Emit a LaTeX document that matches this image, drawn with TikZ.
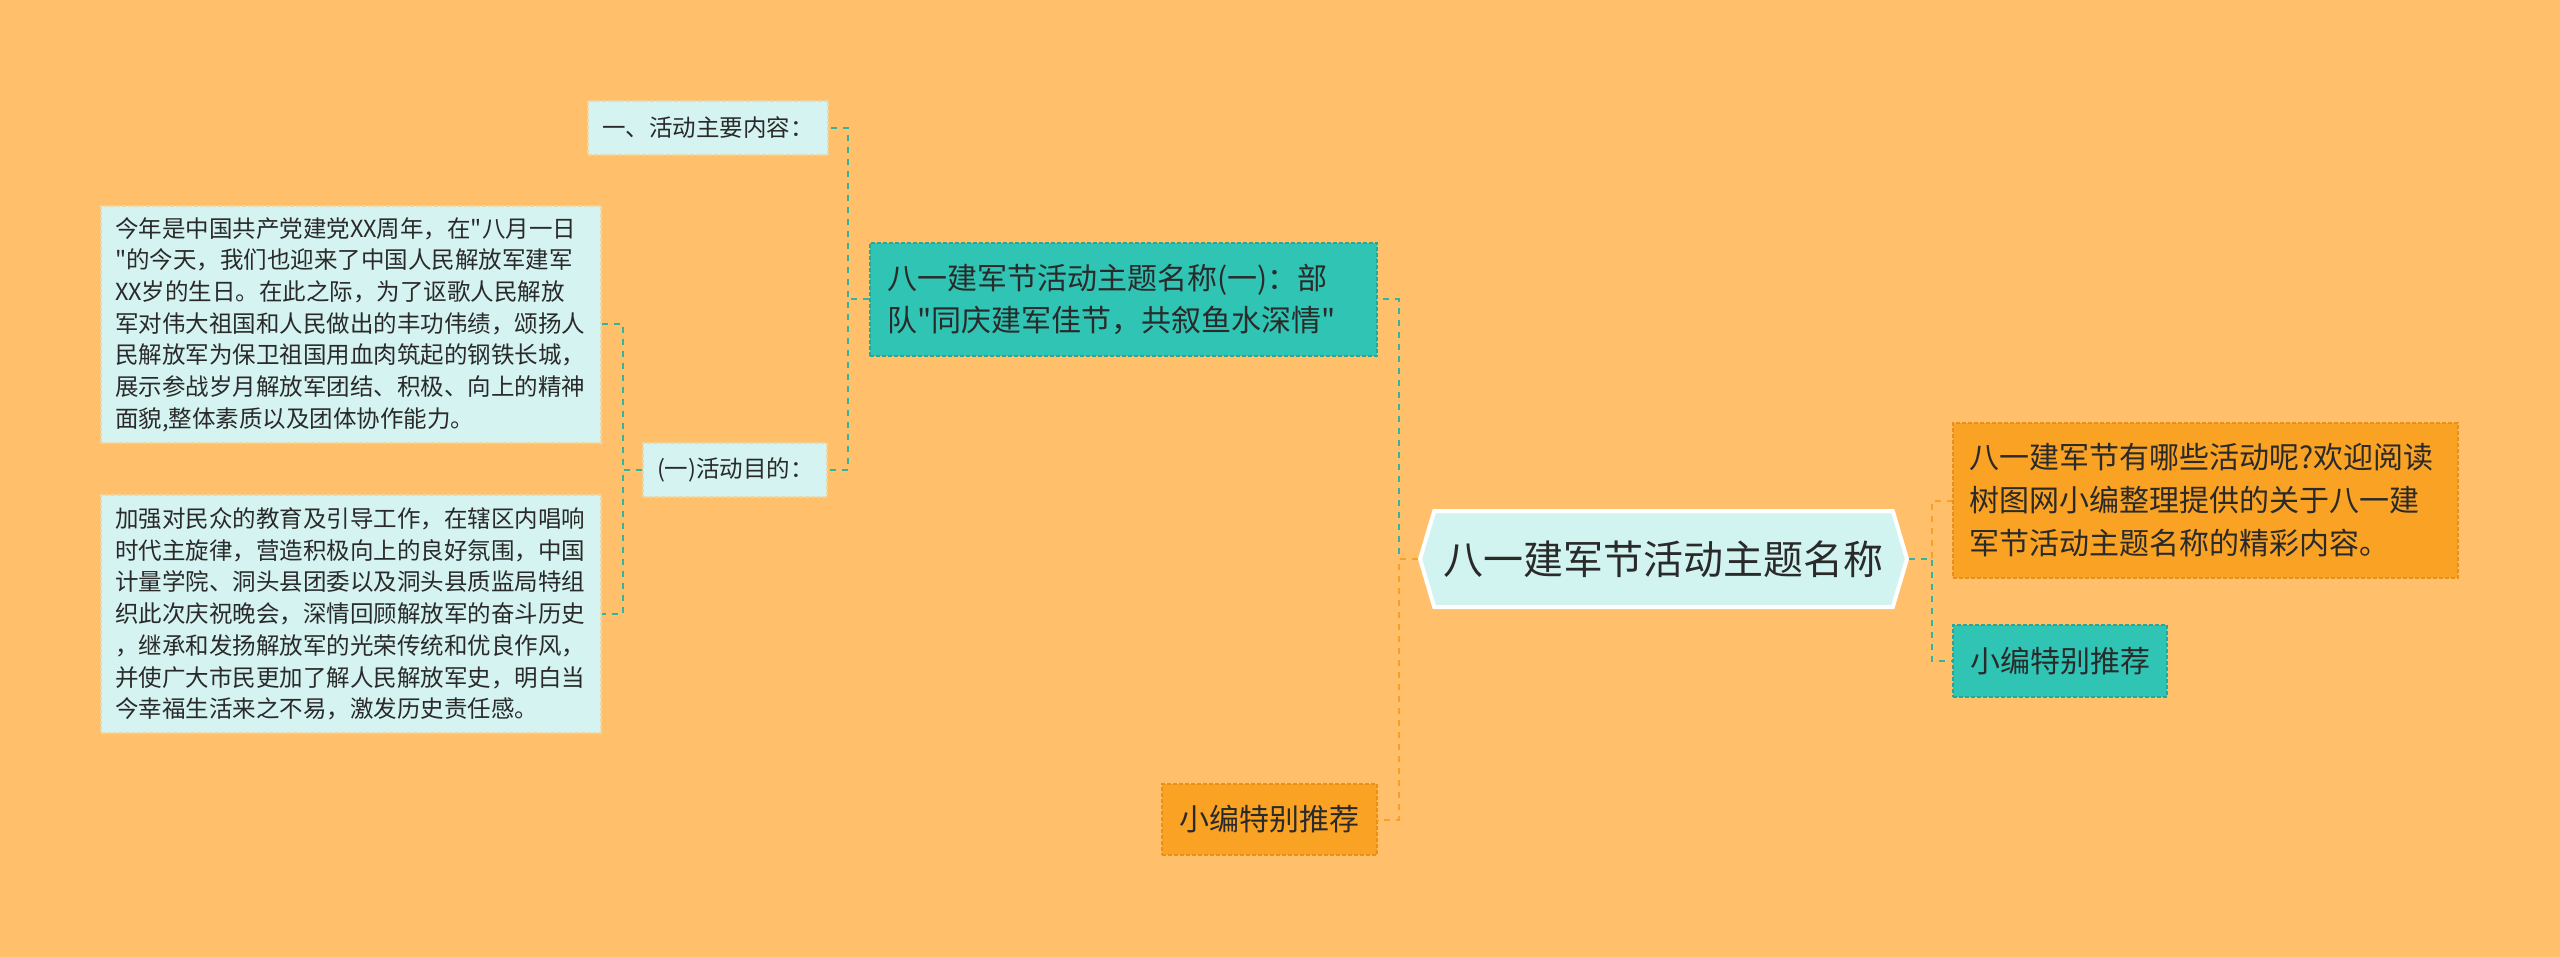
\documentclass[tikz,border=0pt]{standalone}
\usepackage{fontspec}
\setmainfont{Noto Sans CJK SC}[Ligatures=TeXOff]
\usetikzlibrary{positioning,shapes.symbols}

\definecolor{bgorange}{HTML}{FFBF6B}
\definecolor{leafbg}{HTML}{D5F4F1}
\definecolor{leafline}{HTML}{EBD6A6}
\definecolor{rootbg}{HTML}{D2F4F1}
\definecolor{tealbg}{HTML}{2FC4B3}
\definecolor{tealline}{HTML}{26A898}
\definecolor{orangebg}{HTML}{F9A223}
\definecolor{orangeline}{HTML}{E8901A}
\definecolor{txt}{HTML}{2A2A2A}
\definecolor{linkteal}{HTML}{2FB5A2}
\definecolor{linkorange}{HTML}{F7A128}

\begin{document}
\begin{tikzpicture}[
    x=0.5pt, y=-0.5pt,
    box/.style={rectangle, dash pattern=on 2pt off 1pt, line width=0.6pt, inner ysep=0pt, align=left, text=txt},
    leafbox/.style={box, draw=leafline, fill=leafbg, inner xsep=7pt, font=\fontsize{11.75}{15.85}\selectfont},
    tealbox/.style={box, draw=tealline, fill=tealbg, font=\fontsize{15}{21}\selectfont},
    orangebox/.style={box, draw=orangeline, fill=orangebg, font=\fontsize{15}{21.5}\selectfont},
    rootbox/.style={signal, signal to=west and east, signal pointer angle=147, draw=white, line width=2pt, fill=rootbg, inner sep=0pt, font=\fontsize{20}{24}\selectfont, text=txt},
    link/.style={dash pattern=on 3pt off 3pt, line width=1pt}
]

% Page
\useasboundingbox (0,0) rectangle (2560,957);
\fill[bgorange] (0,0) rectangle (2560,957);

% Root
\node[rootbox, minimum width=243.5pt, minimum height=48pt] (root) at (1663.5,559) {八一建军节活动主题名称};

% Left branch
\node[tealbox, text width=236.5pt, inner xsep=8.5pt, minimum height=56.5pt] (theme) at (1123.5,299.5) {八一建军节活动主题名称(一)：部\\队"同庆建军佳节，共叙鱼水深情"};
\node[orangebox, align=center, minimum width=107.5pt, minimum height=35.5pt] (recl) at (1269.5,819.5) {小编特别推荐};

\node[leafbox, text width=106pt, minimum height=27pt] (content) at (708,128) {一、活动主要内容：};
\node[leafbox, text width=78pt, minimum height=27pt] (goal) at (735,470) {(一)活动目的：};

\node[leafbox, text width=236pt, minimum height=118.5pt] (para1) at (351,324.5) {今年是中国共产党建党XX周年，在"八月一日\\"的今天，我们也迎来了中国人民解放军建军\\XX岁的生日。在此之际，为了讴歌人民解放\\军对伟大祖国和人民做出的丰功伟绩，颂扬人\\民解放军为保卫祖国用血肉筑起的钢铁长城，\\展示参战岁月解放军团结、积极、向上的精神\\面貌,整体素质以及团体协作能力。};
\node[leafbox, text width=236pt, minimum height=119pt] (para2) at (351,614) {加强对民众的教育及引导工作，在辖区内唱响\\时代主旋律，营造积极向上的良好氛围，中国\\计量学院、洞头县团委以及洞头县质监局特组\\织此次庆祝晚会，深情回顾解放军的奋斗历史\\，继承和发扬解放军的光荣传统和优良作风，\\并使广大市民更加了解人民解放军史，明白当\\今幸福生活来之不易，激发历史责任感。};

% Right branch
\node[orangebox, text width=236.5pt, inner xsep=8pt, minimum height=77.5pt] (intro) at (2205.5,500.5) {八一建军节有哪些活动呢?欢迎阅读\\树图网小编整理提供的关于八一建\\军节活动主题名称的精彩内容。};
\node[tealbox, align=center, minimum width=107pt, minimum height=36pt] (recr) at (2060,661) {小编特别推荐};

% Junctions
\coordinate (jroot) at (1399,559);
\coordinate (jright) at (1932,559);
\coordinate (jtheme) at (848,299.5);
\coordinate (jgoal) at (623,470);

% Links
\draw[link, linkteal] (root.west) -- (jroot) |- (theme.east);
\draw[link, linkorange] (root.west) -- (jroot) |- (recl.east);
\draw[link, linkorange] (root.east) -- (jright) |- (intro.west);
\draw[link, linkteal] (root.east) -- (jright) |- (recr.west);
\draw[link, linkteal] (theme.west) -- (jtheme) |- (content.east);
\draw[link, linkteal] (theme.west) -- (jtheme) |- (goal.east);
\draw[link, linkteal] (goal.west) -- (jgoal) |- (para1.east);
\draw[link, linkteal] (goal.west) -- (jgoal) |- (para2.east);

\end{tikzpicture}
\end{document}
